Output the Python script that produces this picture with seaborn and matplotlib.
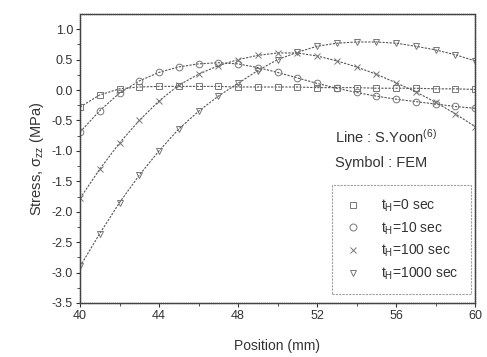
import matplotlib
matplotlib.use("Agg")
import matplotlib.pyplot as plt
import seaborn as sns
import numpy as np
from matplotlib.lines import Line2D

position = [40, 41, 42, 43, 44, 45, 46, 47, 48, 49, 50, 51, 52, 53, 54, 55, 56, 57, 58, 59, 60]
stress_t0 = [-0.28, -0.08, 0.02, 0.05, 0.06, 0.06, 0.06, 0.06, 0.05, 0.05, 0.05, 0.05, 0.04, 0.04, 0.04, 0.03, 0.03, 0.03, 0.02, 0.02, 0.01]
stress_t10 = [-0.69, -0.34, -0.05, 0.15, 0.29, 0.38, 0.43, 0.45, 0.43, 0.37, 0.29, 0.2, 0.11, 0.03, -0.04, -0.1, -0.15, -0.19, -0.23, -0.27, -0.3]
stress_t100 = [-1.78, -1.3, -0.87, -0.5, -0.18, 0.08, 0.26, 0.4, 0.5, 0.57, 0.61, 0.61, 0.56, 0.48, 0.38, 0.26, 0.12, -0.03, -0.2, -0.39, -0.6]
stress_t1000 = [-2.9, -2.36, -1.85, -1.4, -1.0, -0.64, -0.35, -0.1, 0.11, 0.32, 0.5, 0.62, 0.72, 0.77, 0.79, 0.79, 0.77, 0.72, 0.66, 0.58, 0.48]
labels = ["t$_{H}$=0 sec", "t$_{H}$=10 sec", "t$_{H}$=100 sec", "t$_{H}$=1000 sec"]
markers = ["s", "o", "x", "v"]

sns.set_style("white")
plt.rcParams["font.family"] = ["Liberation Sans", "DejaVu Sans"]
plt.rcParams["mathtext.default"] = "regular"

fig = plt.figure(figsize=(4.87, 3.57), dpi=100)
ax = fig.add_axes([80/487, 1-303/357, (475-80)/487, (303-14)/357])

line_col = "#555555"
mk_col = "#777777"
series = [stress_t0, stress_t10, stress_t100, stress_t1000]
handles = []
for vals, mk, lab in zip(series, markers, labels):
    sns.lineplot(x=position, y=vals, ax=ax, color=line_col, linewidth=0.8,
                 linestyle=(0, (2, 1.2)), marker=mk, markersize=4.8,
                 markerfacecolor="none", markeredgecolor=mk_col, markeredgewidth=0.7)
    handles.append(Line2D([], [], linestyle="none", marker=mk, markersize=5,
                          markerfacecolor="none", markeredgecolor=mk_col, markeredgewidth=0.7))

ax.set_xlim(40, 60)
ax.set_ylim(-3.5, 1.25)
ax.set_xticks([40, 44, 48, 52, 56, 60])
ax.set_xticks([42, 46, 50, 54, 58], minor=True)
ax.set_yticks(np.arange(-3.5, 1.01, 0.5))
ax.set_yticks(np.arange(-3.25, 1.2, 0.5), minor=True)
ax.set_yticklabels([f"{v:.1f}" for v in np.arange(-3.5, 1.01, 0.5)])
ax.tick_params(which="major", direction="out", length=3, width=0.8, colors="#333333", labelsize=9, pad=2)
ax.tick_params(which="minor", direction="out", length=2, width=0.6, colors="#333333")
ax.tick_params(left=True, bottom=True, which="both")
for s in ax.spines.values():
    s.set_color("#444444")
    s.set_linewidth(1.0)
    s.set_linestyle((0, (1, 0.5)))

ax.set_xlabel("Position (mm)", fontsize=10, color="#333333", labelpad=12)
ax.set_ylabel("Stress, σ$_{zz}$ (MPa)", fontsize=10.5, color="#333333", labelpad=4)

ax.text(0.645, 0.555, "Line : S.Yoon$^{(6)}$", transform=ax.transAxes, fontsize=10.5, color="#333333")
ax.text(0.645, 0.47, "Symbol : FEM", transform=ax.transAxes, fontsize=10.5, color="#333333")

leg = ax.legend(handles, labels, loc="lower right", bbox_to_anchor=(0.99, 0.03),
                fontsize=10, frameon=True, fancybox=False, handlelength=1.2,
                handletextpad=1.4, labelspacing=0.45, borderpad=0.9, borderaxespad=0)
leg.get_frame().set_edgecolor("#888888")
leg.get_frame().set_linestyle((0, (2, 1)))
leg.get_frame().set_linewidth(0.8)
for t in leg.get_texts():
    t.set_color("#333333")

fig.savefig("out.png", dpi=100)
